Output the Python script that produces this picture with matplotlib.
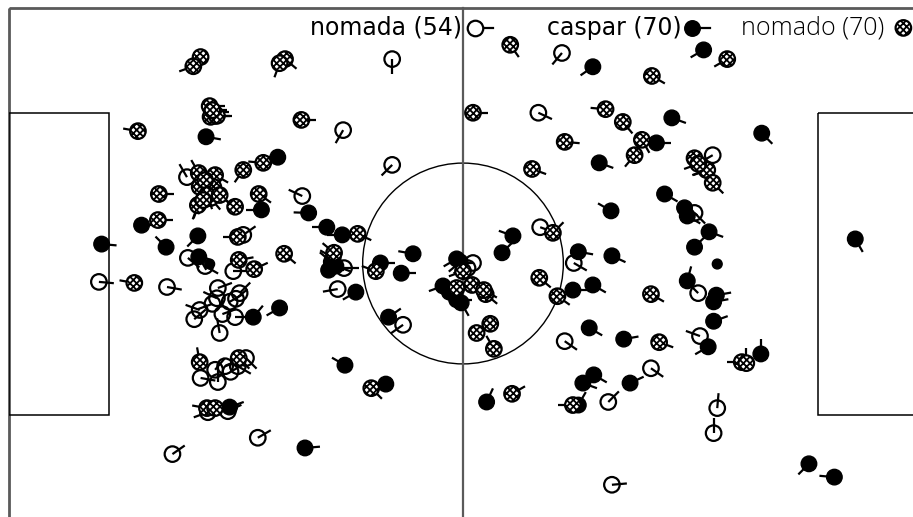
import numpy as np
import matplotlib
matplotlib.use("Agg")
import matplotlib.pyplot as plt
from matplotlib.patches import Rectangle, Ellipse
from matplotlib.collections import LineCollection

# pitch coordinates: x 0-100 along the pitch, y 0-100 across (measured from the top)
# dir = direction of the tail on screen in degrees (0 = right, 90 = up), None = no tail
nomada_x = [42.2, 36.8, 42.2, 32.3, 19.6, 25.8, 19.7, 24.7, 9.9, 17.4,
            23.0, 22.9, 25.4, 25.0, 21.0, 20.4, 23.5, 24.9, 23.2, 36.2,
            43.4, 22.7, 21.1, 23.0, 24.4, 26.1, 24.1, 27.4, 18.0, 51.1,
            60.9, 58.3, 58.5, 77.5, 75.5, 62.2, 75.9, 61.2, 76.1, 70.7,
            66.0, 78.0, 77.6, 66.4, 23.8, 25.2, 21.9, 22.4, 24.3, 21.6,
            50.5, 36.9, 76.8, 22.7]
nomada_y = [10.0, 23.9, 30.7, 36.8, 33.1, 44.4, 48.9, 51.5, 53.6, 54.6,
            54.8, 56.8, 55.8, 56.9, 59.1, 60.9, 59.9, 60.5, 63.6, 55.0,
            62.0, 70.8, 72.4, 73.2, 71.2, 68.5, 78.9, 84.1, 87.3, 49.9,
            8.8, 20.5, 42.9, 28.8, 40.1, 49.9, 55.8, 65.2, 64.2, 70.5,
            77.1, 78.3, 83.2, 93.3, 70.1, 70.1, 79.1, 57.9, 57.5, 50.5,
            50.9, 50.9, 31.7, 21.1]
nomada_dir = [270, 240, 225, 155, 120, 35, 320, 0, 355, 350,
              20, 155, 45, 40, 160, 40, 20, 0, 100, 190,
              215, 50, 350, 90, 30, 315, 25, 30, 35, 180,
              230, 335, 340, 210, 315, 330, 135, 325, 160, 325,
              45, 85, 90, 5, 20, 330, 200, 200, 30, 330,
              200, 0, 200, 0]

caspar_x = [21.7, 29.6, 27.8, 33.0, 14.6, 20.8, 10.2, 17.3, 20.9, 22.1,
            26.9, 29.8, 32.6, 24.3, 35.0, 36.7, 35.5, 35.2, 36.0, 38.2,
            40.9, 44.5, 43.2, 41.8, 37.0, 41.5, 49.3, 47.8, 49.3, 49.8,
            55.5, 54.3, 52.6, 64.3, 76.5, 73.0, 82.9, 71.3, 65.0, 72.2,
            66.3, 74.4, 74.7, 77.1, 75.5, 93.2, 78.0, 62.7, 66.4, 62.1,
            64.3, 74.7, 77.9, 77.6, 77.6, 63.9, 67.7, 77.0, 82.8, 64.4,
            63.2, 68.4, 62.7, 88.1, 90.9, 22.6, 35.7, 48.5, 20.9, 49.7]
caspar_y = [25.2, 29.2, 39.5, 40.1, 42.5, 44.6, 46.2, 46.8, 48.7, 50.1,
            60.5, 58.7, 86.1, 78.1, 42.9, 44.4, 49.7, 51.3, 50.5, 55.6,
            49.9, 48.1, 51.9, 60.5, 69.9, 73.6, 49.1, 54.4, 57.1, 57.7,
            44.6, 47.9, 77.1, 11.5, 8.2, 21.5, 24.5, 26.4, 30.3, 36.4,
            39.7, 39.1, 40.7, 43.8, 46.8, 45.2, 50.1, 47.7, 48.5, 55.2,
            54.2, 53.4, 56.2, 57.5, 61.3, 62.6, 64.8, 66.3, 67.7, 71.8,
            73.4, 73.4, 77.7, 89.2, 91.8, 20.4, 48.9, 55.6, 38.4, 49.7]
caspar_dir = [350, 180, 180, 178, 0, 225, 355, 135, 300, None,
              50, 210, 5, 20, 180, 180, 140, 0, 340, 210,
              0, 170, 0, 35, 150, 180, 210, 200, 0, 300,
              160, 45, 65, 215, 210, 340, 315, 0, 340, 330,
              150, 330, 330, 340, 45, 300, None, 350, 335, 0,
              330, 75, 10, 10, 20, 330, 10, 210, 90, 330,
              340, 25, 60, 225, 175, 0, 150, 0, 250, 220]

nomado_x = [21.1, 20.3, 30.4, 29.8, 22.1, 22.2, 22.9, 14.2, 32.2, 28.0,
            25.8, 20.9, 22.7, 21.0, 22.5, 22.2, 20.8, 24.9, 16.5, 27.5,
            16.4, 25.2, 25.3, 27.0, 30.3, 13.8, 21.0, 25.3, 21.8, 22.7,
            38.4, 35.8, 40.4, 50.0, 49.3, 51.0, 52.5, 53.0, 51.5, 53.4,
            39.9, 55.2, 51.1, 61.2, 57.6, 65.7, 70.8, 79.1, 67.6, 69.7,
            68.9, 75.5, 76.9, 77.5, 59.9, 58.4, 60.4, 70.7, 71.6, 80.7,
            81.2, 62.1, 55.4, 21.6, 21.8, 23.2, 21.4, 22.4, 52.3, 75.9]
nomado_y = [9.6, 11.4, 10.0, 10.8, 19.2, 21.3, 21.1, 24.1, 21.9, 30.3,
            31.7, 32.3, 32.7, 35.0, 35.0, 37.2, 38.6, 38.9, 36.4, 36.4,
            41.5, 44.8, 49.3, 51.1, 48.1, 53.8, 69.3, 68.5, 78.3, 78.3,
            44.2, 47.9, 51.5, 51.5, 54.8, 54.2, 56.0, 61.8, 63.6, 66.7,
            74.4, 7.2, 20.5, 26.2, 31.5, 19.8, 13.3, 10.0, 22.3, 25.8,
            28.8, 29.4, 31.7, 34.2, 44.0, 52.8, 56.4, 56.0, 65.4, 69.3,
            69.5, 77.7, 75.5, 33.7, 36.6, 36.6, 37.6, 20.0, 55.2, 30.5]
nomado_dir = [225, 200, 320, 250, 0, 5, 0, 170, 0, 175,
              235, 120, 330, 260, 300, 310, 250, 145, 0, 325,
              0, 180, 10, 25, 320, 170, 100, 315, 170, 10,
              335, 140, 160, 200, 180, 0, 320, 200, 30, 120,
              315, 305, 0, 355, 340, 175, 330, 210, 310, 300,
              230, 330, 200, 315, 45, 320, 325, 330, 340, 180,
              90, 180, 30, 280, 290, 320, 250, 0, 330, 200]

labels = ['nomada (54)', 'caspar (70)', 'nomado (70)']

plt.rcParams['hatch.linewidth'] = 1.3

fig = plt.figure(figsize=(9.13, 5.17), dpi=100)
ax = fig.add_axes([9 / 913, -2 / 517, 908 / 913, 511 / 517])
ax.set_xlim(0, 100)
ax.set_ylim(100, 0)
ax.axis('off')

# pitch
ax.add_patch(Rectangle((0, 0), 100, 100, fill=False, ec='#5a5a5a', lw=2, clip_on=False))
ax.plot([50, 50], [0, 100], color='#5a5a5a', lw=1.6, clip_on=False)
ax.add_patch(Rectangle((0, 20.5), 11.0, 59.2, fill=False, ec='black', lw=1.1))
ax.add_patch(Rectangle((89.1, 20.5), 10.9, 59.2, fill=False, ec='black', lw=1.1))
ax.add_patch(Ellipse((50, 50), 22.1, 39.3, fill=False, ec='black', lw=1.0))

p0 = ax.transData.transform((0, 0))
px_x = ax.transData.transform((1, 0))[0] - p0[0]
px_y = ax.transData.transform((0, 1))[1] - p0[1]


def draw_tails(xs, ys, dirs, z, length=15):
    segs = []
    for x, y, d in zip(xs, ys, dirs):
        if d is None:
            continue
        a = np.radians(d)
        segs.append([(x, y), (x + length * np.cos(a) / px_x, y + length * np.sin(a) / px_y)])
    ax.add_collection(LineCollection(segs, colors='black', linewidths=1.6, zorder=z))


size = 125
hatch = 'xxxxx'
# nomada - open circles
draw_tails(nomada_x, nomada_y, nomada_dir, 3)
ax.scatter(nomada_x, nomada_y, s=size, facecolors='none', edgecolors='black',
           linewidths=1.6, zorder=3.1)
# caspar - filled circles
draw_tails(caspar_x, caspar_y, caspar_dir, 4)
caspar_s = [50 if d is None else size for d in caspar_dir]
ax.scatter(caspar_x, caspar_y, s=caspar_s, facecolors='black', edgecolors='black',
           linewidths=1.0, zorder=4.1)
# nomado - hatched circles
draw_tails(nomado_x, nomado_y, nomado_dir, 5)
ax.scatter(nomado_x, nomado_y, s=size, facecolors='white', edgecolors='black',
           linewidths=1.6, hatch=hatch, zorder=5.1)

# legend along the top
ly = 0.961
ax.text(0.499, ly, labels[0], transform=ax.transAxes, ha='right', va='center',
        fontsize=17, color='black')
ax.plot([0.513, 0.533], [ly, ly], transform=ax.transAxes, color='black', lw=1.6, zorder=6)
ax.scatter([0.513], [ly], s=size, transform=ax.transAxes, facecolors='white',
           edgecolors='black', linewidths=1.6, zorder=6.1)
ax.text(0.741, ly, labels[1], transform=ax.transAxes, ha='right', va='center',
        fontsize=17, color='black')
ax.plot([0.752, 0.772], [ly, ly], transform=ax.transAxes, color='black', lw=1.6, zorder=6)
ax.scatter([0.752], [ly], s=size, transform=ax.transAxes, facecolors='black',
           edgecolors='black', linewidths=1.0, zorder=6.1)
ax.text(0.964, ly, labels[2], transform=ax.transAxes, ha='right', va='center',
        fontsize=18, color='black', family='Open Sans', fontweight='light')
ax.scatter([0.985], [ly], s=size, transform=ax.transAxes, facecolors='white',
           edgecolors='black', linewidths=1.6, hatch=hatch, zorder=6.1, clip_on=False)

fig.savefig('out.png', dpi=100)
